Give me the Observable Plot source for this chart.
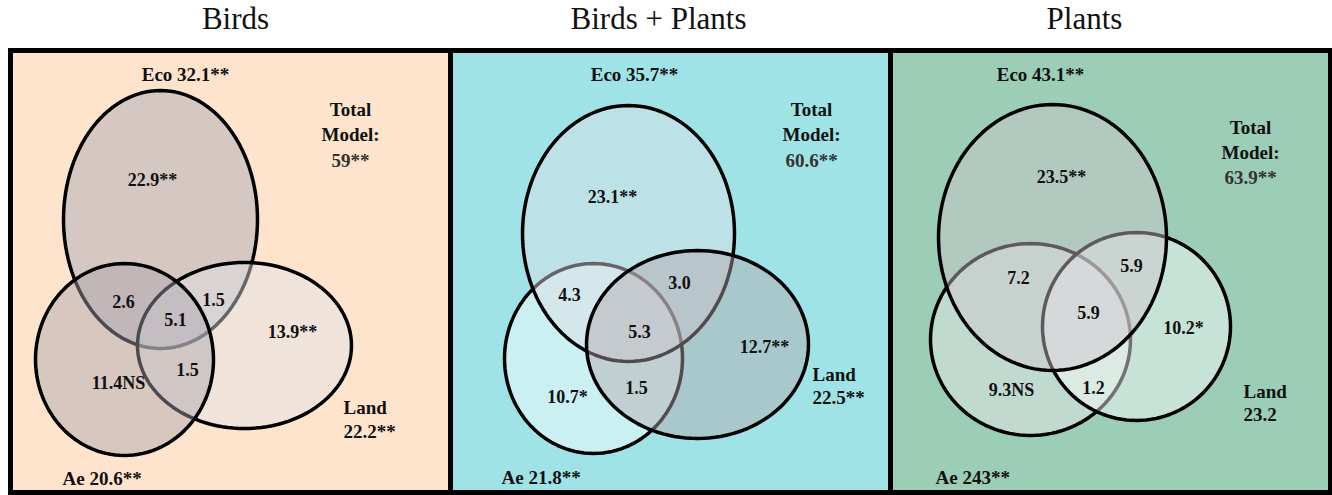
<!DOCTYPE html>
<html>
<head>
<meta charset="utf-8">
<script src="https://cdn.jsdelivr.net/npm/d3@7"></script>
<script src="https://cdn.jsdelivr.net/npm/@observablehq/plot@0.6"></script>
<style>
  html, body { margin: 0; padding: 0; background: #ffffff; }
  #chart { width: 1332px; height: 495px; }
</style>
</head>
<body>
<div id="chart"></div>
<script>
// ---------------- data ----------------
const panels = ["Birds", "Birds + Plants", "Plants"];
const ecoTotals = ["32.1**", "35.7**", "43.1**"];
const aeTotals = ["20.6**", "21.8**", "243**"];
const landTotals = ["22.2**", "22.5**", "23.2"];
const totalModel = ["59**", "60.6**", "63.9**"];
const setNames = ["Eco", "Ae", "Land"];
const regionNames = ["Eco only", "Eco & Ae", "Eco & Land", "All three", "Land only", "Ae & Land", "Ae only"];
const regionValues = [
  ["22.9**", "2.6", "1.5", "5.1", "13.9**", "1.5", "11.4NS"],
  ["23.1**", "4.3", "3.0", "5.3", "12.7**", "1.5", "10.7*"],
  ["23.5**", "7.2", "5.9", "5.9", "10.2*", "1.2", "9.3NS"]
];

// ---------------- layout (panel-local units) ----------------
const panelW = 440, panelH = 442;
const panelBg = ["#fee4cc", "#9fe3e6", "#9ccdb6"];
const titleX = [225, 208, 194];
// ellipse geometry [cx, cy, rx, ry] per panel, per set (Eco, Ae, Land)
const ellipseGeom = [
  {Eco: [150, 169, 97, 129], Ae: [114, 309, 89, 96], Land: [234, 295, 107, 83]},
  {Eco: [178, 183, 106, 128], Ae: [143, 308, 89, 95], Land: [247, 294, 111, 94]},
  {Eco: [162, 187, 114, 133], Ae: [140, 289, 100, 96], Land: [246, 276, 94, 94]}
];
const drawOrder = [["Eco", "Land", "Ae"], ["Ae", "Eco", "Land"], ["Ae", "Land", "Eco"]];
const ellipseFill = [
  {Eco: "#a3a4b6", Ae: "#a8a4ad", Land: "#dfe2e9"},
  {Eco: "#e1dee6", Ae: "#ffffff", Land: "#b3a7ae"},
  {Eco: "#cfc6cc", Ae: "#f0ecf0", Land: "#fcfcfc"}
];
const regionPos = [
  [[142, 130], [113, 252], [203, 250], [165, 270], [282, 282], [177, 320], [108, 333]],
  [[162, 147], [119, 245], [229, 233], [189, 282], [314, 297], [186, 338], [117, 347]],
  [[171, 127], [128, 228], [241, 216], [198, 263], [293, 278], [203, 338], [121, 340]]
];
const ecoLabelPos = [[175, 24], [184, 24], [150, 24]];
const totalPos = [[340, 59, 84, 110], [361, 59, 84, 110], [360, 77, 102, 127]];
const landLabelPos = [[333, 357, 381], [362, 324, 347], [353, 341, 364]];
const aeLabelPos = [[52, 428], [51, 427], [45, 427]];

// ---------------- build tables ----------------
const ellipseRows = [];
const steps = 120;
panels.forEach((p, i) => {
  drawOrder[i].forEach(s => {
    const [cx, cy, rx, ry] = ellipseGeom[i][s];
    for (let k = 0; k < steps; k++) {
      const t = (2 * Math.PI * k) / steps;
      ellipseRows.push({panel: p, key: p + "|" + s, x: cx + rx * Math.cos(t), y: cy + ry * Math.sin(t), fill: ellipseFill[i][s]});
    }
  });
});

const regionRows = [];
panels.forEach((p, i) => regionNames.forEach((r, j) =>
  regionRows.push({panel: p, region: r, text: regionValues[i][j], x: regionPos[i][j][0], y: regionPos[i][j][1]})));

const centerLabels = [];
const startLabels = [];
panels.forEach((p, i) => {
  centerLabels.push({panel: p, text: "Eco " + ecoTotals[i], x: ecoLabelPos[i][0], y: ecoLabelPos[i][1], fill: "#111"});
  centerLabels.push({panel: p, text: "Total", x: totalPos[i][0], y: totalPos[i][1], fill: "#111"});
  centerLabels.push({panel: p, text: "Model:", x: totalPos[i][0], y: totalPos[i][2], fill: "#111"});
  centerLabels.push({panel: p, text: totalModel[i], x: totalPos[i][0], y: totalPos[i][3], fill: "#333"});
  startLabels.push({panel: p, text: "Land", x: landLabelPos[i][0], y: landLabelPos[i][1]});
  startLabels.push({panel: p, text: landTotals[i], x: landLabelPos[i][0], y: landLabelPos[i][2]});
  startLabels.push({panel: p, text: "Ae " + aeTotals[i], x: aeLabelPos[i][0], y: aeLabelPos[i][1]});
});

const bgRows = panels.map((p, i) => ({panel: p, fill: panelBg[i]}));
const titleRows = panels.map((p, i) => ({panel: p, text: p, x: titleX[i]}));

const serif = "'Liberation Serif', 'Times New Roman', Times, serif";

const chart = Plot.plot({
  width: 1332,
  height: 495,
  marginLeft: 10,
  marginRight: 2,
  marginTop: 50,
  marginBottom: 3,
  style: {fontFamily: serif, background: "#ffffff", overflow: "visible"},
  fx: {domain: panels, padding: 0, axis: null},
  x: {domain: [0, panelW], axis: null},
  y: {domain: [0, panelH], reverse: true, axis: null},
  color: {type: "identity"},
  marks: [
    Plot.rect(bgRows, {fx: "panel", x1: () => 0, x2: () => panelW, y1: () => 0, y2: () => panelH, fill: "fill"}),
    Plot.line(ellipseRows, {
      fx: "panel", x: "x", y: "y", z: "key", fill: "fill", fillOpacity: 0.45,
      stroke: "#000", strokeWidth: 3.5, curve: "linear-closed"
    }),
    Plot.text(regionRows, {fx: "panel", x: "x", y: "y", text: "text", fontSize: 18, fontWeight: "bold", fill: "#111"}),
    Plot.text(centerLabels, {fx: "panel", x: "x", y: "y", text: "text", fontSize: 19, fontWeight: "bold", fill: "fill"}),
    Plot.text(startLabels, {fx: "panel", x: "x", y: "y", text: "text", fontSize: 19, fontWeight: "bold", textAnchor: "start", fill: "#111"}),
    Plot.text(titleRows, {fx: "panel", x: "x", text: "text", frameAnchor: "top", lineAnchor: "bottom", dy: -22, fontSize: 31, fill: "#111"}),
    Plot.frame({stroke: "#000", strokeWidth: 5})
  ]
});
document.getElementById("chart").appendChild(chart);
</script>
</body>
</html>
